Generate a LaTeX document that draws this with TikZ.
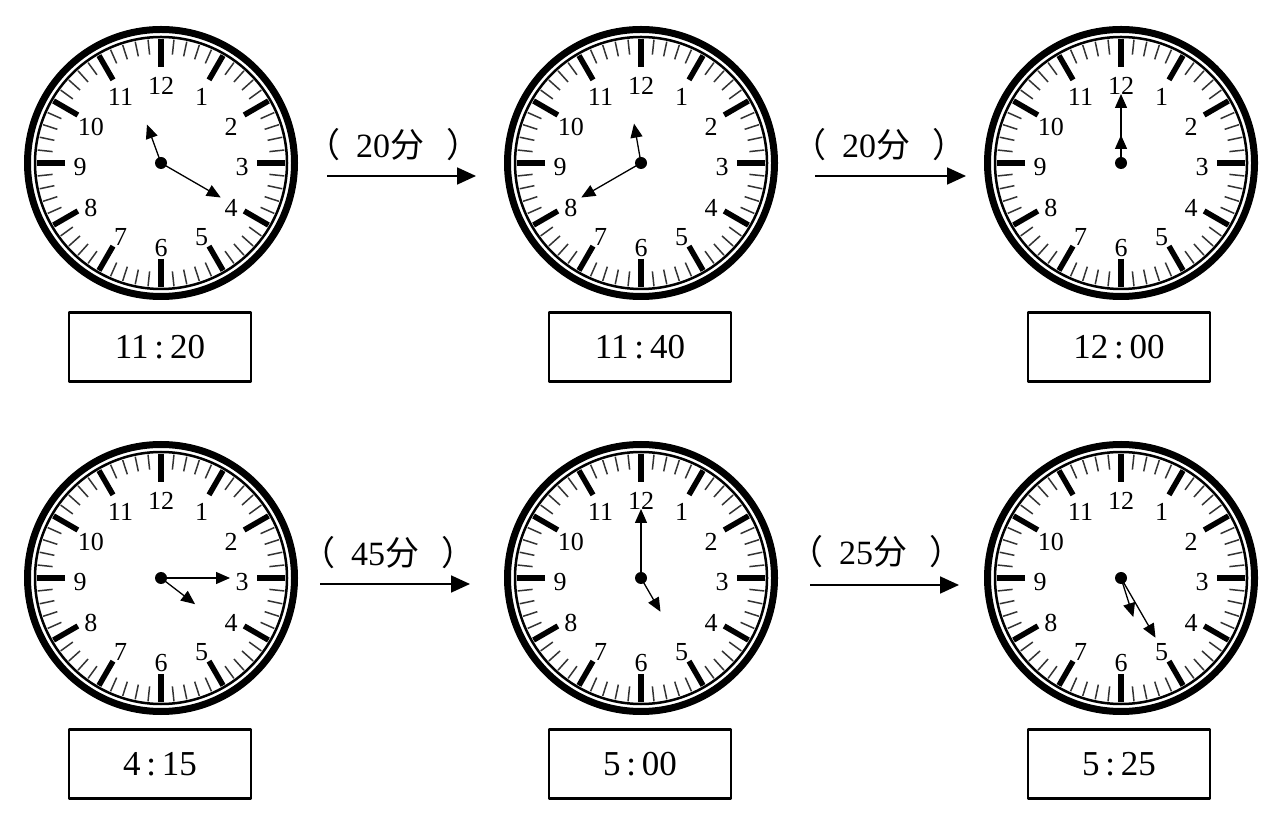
\documentclass[tikz,border=0pt]{standalone}
\usepackage{fontspec}
\setmainfont{Liberation Serif}
\newfontfamily\cjk{Noto Sans CJK SC}
\usetikzlibrary{arrows.meta}
\begin{document}
\begin{tikzpicture}[x=1pt,y=1pt,line join=round,
		hand/.style={line width=1.3pt,-{Triangle[length=14pt,width=12pt]}},
		timebox/.style={draw,line width=2.5pt,minimum width=182pt,minimum height=69pt,font=\fontsize{35}{40}\selectfont},
		gap/.style={line width=1.8pt,-{Triangle[length=19pt,width=17pt]}},
		gaptext/.style={font=\fontsize{34}{38}\selectfont},
		digit/.style={font=\fontsize{26}{26}\selectfont,inner sep=0pt}]
	\useasboundingbox (0,0) rectangle (1268,814);
	\def\ml{69} % minute hand
	% name / centre / hour angle / minute angle / hour hand
	\foreach \nm/\cx/\cy/\ha/\ma/\hl in {c1/161/651/340/120/41, c2/641/651/350/240/40, c3/1121/651/0/0/28,
		c4/161/236/127.5/90/43, c5/641/236/150/0/39, c6/1121/236/162.5/150/41}{
		\coordinate (\nm) at (\cx,\cy);
		\begin{scope}[shift={(\nm)}]
			\draw[line width=7pt] (0,0) circle (133.5);
			\draw[line width=2.5pt] (0,0) circle (126);
			\foreach \mk in {0,...,59} \draw[line width=1.5pt,black!80] (\mk*6:109)--(\mk*6:124);
			\foreach \hr in {1,...,12}{
				\draw[line width=5.5pt] (90-\hr*30:96)--(90-\hr*30:124);
				\node[digit,yshift=-4pt] (\nm-\hr) at (90-\hr*30:81) {\hr};
			}
			\draw[hand] (0,0)--(90-\ha:\hl);
			\draw[hand] (0,0)--(90-\ma:\ml);
			\fill (0,0) circle (6);
		\end{scope}
	}
	\node[timebox] (t1) at (160,467) {11\,:\,20};
	\node[timebox] (t2) at (640,467) {11\,:\,40};
	\node[timebox] (t3) at (1119,467) {12\,:\,00};
	\node[timebox] (t4) at (160,50) {4\,:\,15};
	\node[timebox] (t5) at (640,50) {5\,:\,00};
	\node[timebox] (t6) at (1119,50) {5\,:\,25};
	\coordinate (a1s) at (327,638); \coordinate (a1e) at (476,638);
	\coordinate (a2s) at (815,638); \coordinate (a2e) at (966,638);
	\coordinate (a3s) at (320,230); \coordinate (a3e) at (470,230);
	\coordinate (a4s) at (810,229); \coordinate (a4e) at (959,229);
	\draw[gap] (a1s)--(a1e); \draw[gap] (a2s)--(a2e);
	\draw[gap] (a3s)--(a3e); \draw[gap] (a4s)--(a4e);
	\node[gaptext] (l1) at (393,669) {{\cjk （}\hspace{16pt}20{\cjk 分}\hspace{22pt}{\cjk ）}};
	\node[gaptext] (l2) at (879,669) {{\cjk （}\hspace{16pt}20{\cjk 分}\hspace{22pt}{\cjk ）}};
	\node[gaptext] (l3) at (388,261) {{\cjk （}\hspace{16pt}45{\cjk 分}\hspace{22pt}{\cjk ）}};
	\node[gaptext] (l4) at (876,262) {{\cjk （}\hspace{16pt}25{\cjk 分}\hspace{22pt}{\cjk ）}};
\end{tikzpicture}
\end{document}
